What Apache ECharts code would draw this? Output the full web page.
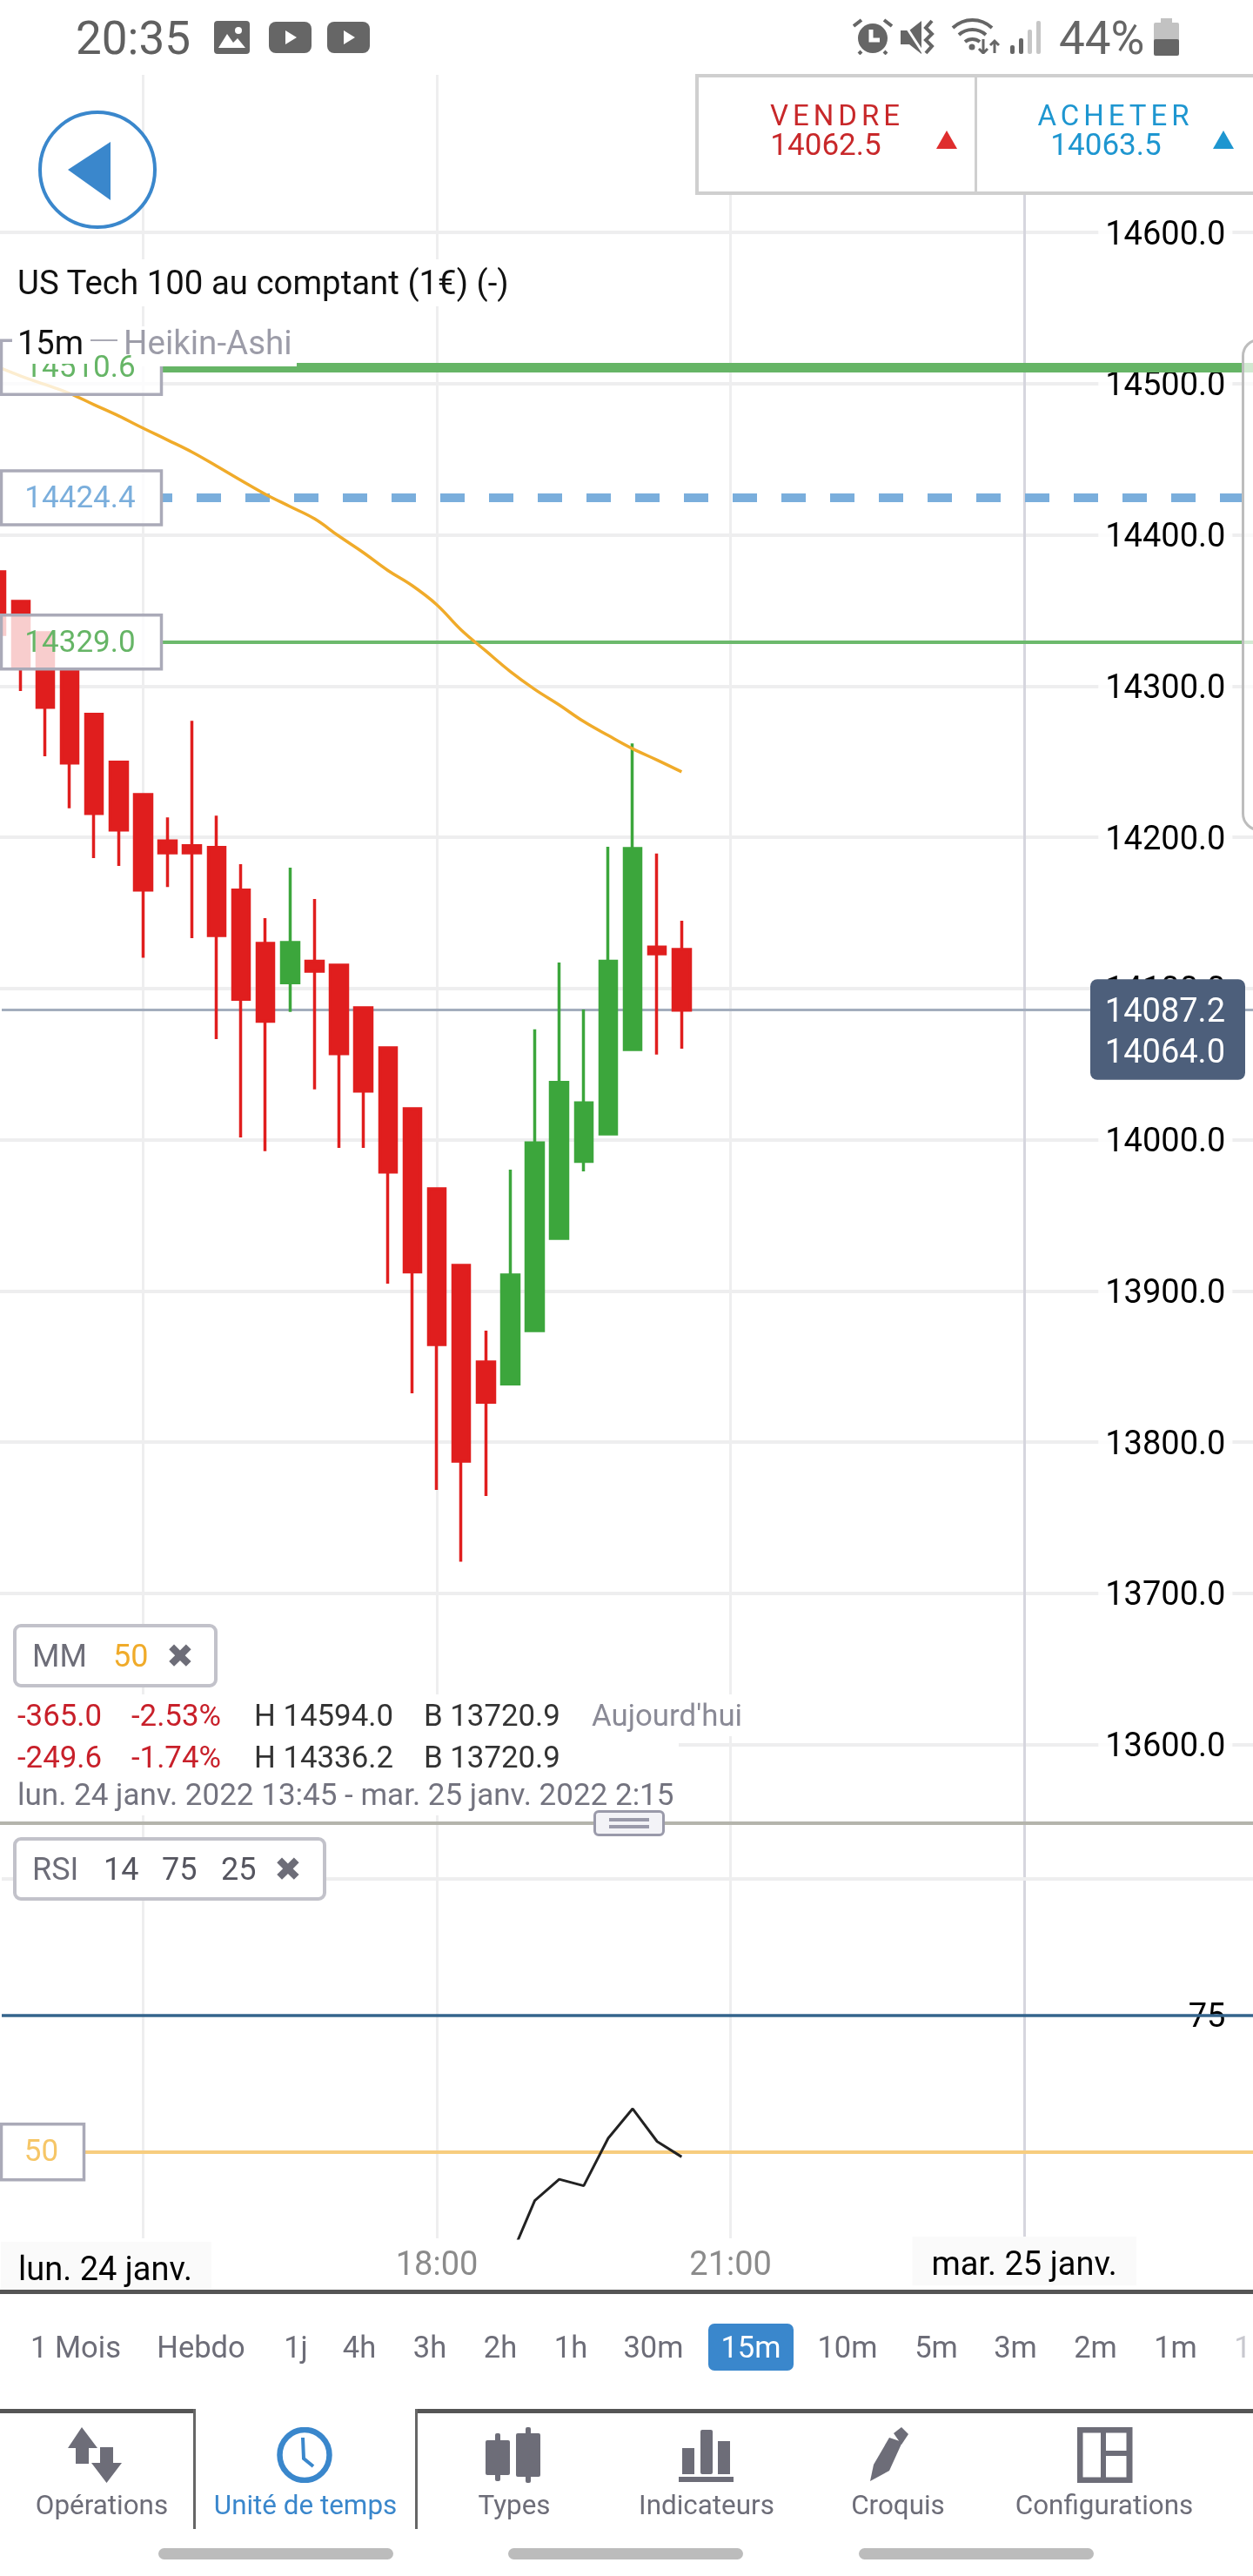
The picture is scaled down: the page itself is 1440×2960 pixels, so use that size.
<!DOCTYPE html>
<html lang="fr">
<head>
<meta charset="utf-8">
<title>US Tech 100</title>
<script src="https://cdn.jsdelivr.net/npm/echarts@6/dist/echarts.min.js"></script>
<style>
html,body{margin:0;padding:0;background:#fff;font-family:Roboto,sans-serif;}
#wrap{position:relative;width:1440px;height:2960px;overflow:hidden;background:#fff;}
#chart{position:absolute;left:0;top:0;width:1440px;height:2960px;}
#ui{position:absolute;left:0;top:0;width:1440px;height:2960px;pointer-events:none;}
#ui div,#ui span,#ui svg{position:absolute;}
.t{white-space:nowrap;line-height:1;}
</style>
</head>
<body>
<div id="wrap"><div id="chart"></div><div id="ui"></div></div>
<script>
// ---- data ----
var candleTimes = ['13:30','13:45','14:00','14:15','14:30','14:45','15:00','15:15','15:30','15:45','16:00','16:15','16:30','16:45','17:00','17:15','17:30','17:45','18:00','18:15','18:30','18:45','19:00','19:15','19:30','19:45','20:00','20:15','20:30'];
var opens  = [14375.5,14356.0,14335.3,14311.1,14281.3,14249.6,14228.2,14197.6,14194.4,14193.2,14165.0,14129.8,14103.7,14118.0,14115.4,14087.2,14060.7,14020.4,13967.5,13916.9,13853.0,13838.4,13873.7,13934.7,13985.6,14003.7,14059.5,14127.4,14125.8];
var closes = [14334.1,14312.5,14285.9,14249.1,14215.7,14204.7,14165.0,14189.6,14189.6,14134.9,14092.8,14078.3,14130.4,14111.4,14056.9,14032.1,13978.5,13912.5,13864.5,13787.3,13826.4,13910.5,13997.9,14037.8,14024.3,14118.0,14192.5,14122.9,14085.6];
var lows   = [14334.1,14296.7,14253.5,14219.2,14186.2,14181.0,14120.3,14167.1,14133.2,14066.5,14001.4,13992.4,14084.4,14033.2,13994.6,13994.6,13904.7,13832.3,13768.4,13720.9,13764.3,13838.4,13873.7,13934.7,13979.0,14003.7,14059.5,14056.2,14060.2];
var highs  = [14375.5,14356.0,14335.3,14311.1,14281.3,14249.6,14228.2,14213.1,14277.0,14214.3,14182.2,14146.5,14179.8,14159.1,14115.4,14087.2,14060.7,14020.4,13967.5,13916.9,13873.7,13980.1,14072.9,14117.1,14086.0,14193.6,14262.0,14189.2,14144.8];
var ma50   = [14511.4,14505.0,14499.3,14493.5,14486.0,14478.6,14470.5,14462.7,14454.7,14445.5,14436.0,14426.8,14418.7,14410.6,14399.1,14388.2,14376.4,14366.3,14353.7,14337.0,14323.2,14309.6,14297.8,14287.5,14276.5,14267.3,14258.5,14251.0,14243.2];
var rsi    = [null,null,null,null,null,null,null,null,null,null,null,null,null,null,null,null,null,null,null,null,null,30.6,41.1,45.0,43.8,52.5,57.9,51.9,49.1];
var priceTicks = [14600,14500,14400,14300,14200,14100,14000,13900,13800,13700,13600];
var levelValues = [14510.6,14424.4,14329.0];
var levelLabels = ['14510.6','14424.4','14329.0'];
var lastPriceLevel = 14085.9;
var lastPriceLabels = ['14087.2','14064.0'];
var rsiLevels = [100,75,50];
var timeTickIndex = [6,18,30,42];
var timeTickLabels = ['lun. 24 janv.','18:00','21:00','mar. 25 janv.'];
var timeframes = ['1 Mois','Hebdo','1j','4h','3h','2h','1h','30m','15m','10m','5m','3m','2m','1m','1'];

// ---- chart ----
var FONT='Roboto, sans-serif';
var STEP=28.13, SLOTS=52, GL=-18.36;
var BLUE='#3a87cc', GREY='#6d6d78';
var candles = opens.map(function(o,i){return [o,closes[i],lows[i],highs[i]];});
var cats = candleTimes.slice();
while(cats.length<SLOTS) cats.push('t'+cats.length);
var chart = echarts.init(document.getElementById('chart'),null,{width:1440,height:2960});
var gridLine={color:'#eeeeef',width:4};
function level(v,style,from){return [{x:from,yAxis:v,lineStyle:style},{x:1440,yAxis:v}];}
chart.setOption({
  animation:false,
  backgroundColor:'#fff',
  grid:[
    {left:GL,width:SLOTS*STEP,top:267,height:1737.5,containLabel:false,outerBoundsMode:'none'},
    {left:GL,width:SLOTS*STEP,top:2158.5,height:413.5,containLabel:false,outerBoundsMode:'none'},
    {left:-173.08,width:60*STEP,top:86,height:2486,containLabel:false,outerBoundsMode:'none'}
  ],
  xAxis:[
    {type:'category',gridIndex:0,data:cats,axisLine:{show:false},axisTick:{show:false},axisLabel:{show:false},splitLine:{show:false}},
    {type:'category',gridIndex:1,data:cats,axisLine:{show:false},axisTick:{show:false},axisLabel:{show:false},splitLine:{show:false}},
    {type:'value',gridIndex:2,min:-6,max:54,interval:12,axisLine:{show:false},axisTick:{show:false},
      splitLine:{show:true,lineStyle:{width:3,color:['#eeeeef','#eeeeef','#eeeeef','#eeeeef','#d6d6de','#eeeeef']}},
      axisLabel:{show:true,margin:4,hideOverlap:false,showMinLabel:true,showMaxLabel:true,fontFamily:FONT,
        formatter:function(v){
          var k=timeTickIndex.indexOf(v);
          if(k<0) return '';
          if(k===0) return '{a|'+timeTickLabels[k]+'}{sp|}';
          if(k===3) return '{b|'+timeTickLabels[k]+'}';
          return '{h|'+timeTickLabels[k]+'}';
        },
        rich:{
          a:{fontFamily:FONT,fontSize:38,color:'#000',backgroundColor:'#fafafa',height:44,lineHeight:44,padding:[12,22,0,20]},
          sp:{width:85,height:44,padding:[12,0,0,0]},
          b:{fontFamily:FONT,fontSize:38,color:'#000',backgroundColor:'#fafafa',height:44,lineHeight:44,padding:[12,22,0,22]},
          h:{fontFamily:FONT,fontSize:38,color:'#8b8b8b',height:44,lineHeight:44,padding:[12,0,0,0]}
        }
      }}
  ],
  yAxis:[
    {type:'value',gridIndex:0,position:'right',min:13600,max:14600,interval:100,
      axisLine:{show:false},axisTick:{show:false},
      splitLine:{show:true,showMinLine:true,showMaxLine:true,lineStyle:gridLine},
      axisLabel:{inside:true,margin:28,align:'right',verticalAlign:'middle',showMinLabel:true,showMaxLabel:true,
        formatter:function(v){return priceTicks.indexOf(v)>=0?'{v|'+v.toFixed(1)+'}':'';},
        rich:{v:{fontFamily:FONT,fontSize:38,color:'#000',height:44,lineHeight:44,padding:[8,8,0,8],backgroundColor:'rgba(255,255,255,0.85)'}}}},
    {type:'value',gridIndex:1,position:'right',min:34.2,max:100,
      axisLine:{show:false},axisTick:{show:false},splitLine:{show:false},
      axisLabel:{inside:true,margin:32,align:'right',verticalAlign:'middle',customValues:[75],
        formatter:function(v){return '{v|'+v+'}';},
        rich:{v:{fontFamily:FONT,fontSize:38,color:'#000',height:44,lineHeight:44,padding:[8,4,0,4],backgroundColor:'#fff'}}}},
    {type:'value',gridIndex:2,min:0,max:1,show:false}
  ],
  series:[
    {name:'Niveaux',type:'line',xAxisIndex:0,yAxisIndex:0,data:[],silent:true,
      markLine:{silent:true,z:1,symbol:'none',animation:false,label:{show:false},data:[
        level(levelValues[0],{color:'#66b566',width:11,type:'solid'},186),
        level(levelValues[1],{color:'#7aaedc',width:10,type:[28,28],dashOffset:16},186),
        level(levelValues[2],{color:'#6cb96c',width:4,type:'solid'},186),
        level(lastPriceLevel,{color:'#a3adbd',width:3,type:'solid'},2)
      ]}},
    {name:'US Tech 100',type:'candlestick',xAxisIndex:0,yAxisIndex:0,z:3,data:candles,barWidth:20,
      itemStyle:{color:'#3ca63c',color0:'#e01e1e',borderColor:'#3ca63c',borderColor0:'#e01e1e',borderWidth:3.5}},
    {name:'MM 50',type:'line',xAxisIndex:0,yAxisIndex:0,z:4,data:ma50,showSymbol:false,symbol:'none',smooth:0.4,
      lineStyle:{color:'#f0ab2a',width:3.5}},
    {name:'Niveaux RSI',type:'line',xAxisIndex:1,yAxisIndex:1,data:[],silent:true,
      markLine:{silent:true,z:1,symbol:'none',animation:false,label:{show:false},data:[
        level(rsiLevels[0],{color:'#eeeeef',width:4,type:'solid'},2),
        level(rsiLevels[1],{color:'#34648c',width:3.5,type:'solid'},2),
        level(rsiLevels[2],{color:'#f7cd7f',width:4,type:'solid'},95)
      ]}},
    {name:'RSI',type:'line',xAxisIndex:1,yAxisIndex:1,z:4,data:rsi,connectNulls:false,showSymbol:false,symbol:'none',
      lineStyle:{color:'#222',width:3}},
    {name:'axe',type:'line',xAxisIndex:2,yAxisIndex:2,data:[],silent:true}
  ]
});

// level tags follow the axis scale
var yMain=function(v){return chart.convertToPixel({yAxisIndex:0},v);};
var yRsi=function(v){return chart.convertToPixel({yAxisIndex:1},v);};
function tag(y,w,h,label,color,fill){
  return [
    {type:'rect',z:20,shape:{x:1.5,y:y-h/2,width:w,height:h},style:{fill:fill,stroke:'#aaaab8',lineWidth:3.5}},
    {type:'text',z:21,style:{x:w/2,y:y+2,text:label,fill:color,font:'35px '+FONT,align:'center',verticalAlign:'middle',textAlign:'center',textVerticalAlign:'middle'}}
  ];
}
var gel=[];
gel=gel.concat(tag(yMain(levelValues[0]),184,62,levelLabels[0],'#66b566','rgba(255,255,255,0.78)'));
gel=gel.concat(tag(yMain(levelValues[1]),184,62,levelLabels[1],'#7aaedc','rgba(255,255,255,0.78)'));
gel=gel.concat(tag(yMain(levelValues[2]),184,62,levelLabels[2],'#66b566','rgba(255,255,255,0.78)'));
gel=gel.concat(tag(yRsi(rsiLevels[2]),95,64,'50','#f6c667','#fff'));
var py=yMain(lastPriceLevel);
gel.push({type:'rect',z:20,shape:{x:1253,y:py-35,width:178,height:115.5,r:8},style:{fill:'#4d5f7b'}});
gel.push({type:'text',z:21,style:{x:1408,y:py+4,text:lastPriceLabels[0],fill:'#fff',font:'38px '+FONT,align:'right',verticalAlign:'middle'}});
gel.push({type:'text',z:21,style:{x:1408,y:py+51,text:lastPriceLabels[1],fill:'#fff',font:'38px '+FONT,align:'right',verticalAlign:'middle'}});
chart.setOption({graphic:{elements:gel}});

// ---- application chrome ----
var ui=document.getElementById('ui');
function box(x,y,w,h,css){var d=document.createElement('div');d.style.cssText='left:'+x+'px;top:'+y+'px;width:'+w+'px;height:'+h+'px;box-sizing:border-box;'+(css||'');ui.appendChild(d);return d;}
function txt(s,x,y,size,color,anchor,css){var d=document.createElement('div');d.className='t';d.textContent=s;
  var tx=anchor==='c'?'-50%':(anchor==='r'?'-100%':'0');
  d.style.cssText='left:'+x+'px;top:'+y+'px;font-size:'+size+'px;color:'+color+';transform:translate('+tx+',-50%);'+(css||'');ui.appendChild(d);return d;}
function svg(x,y,w,h,inner){var d=document.createElementNS('http://www.w3.org/2000/svg','svg');d.setAttribute('width',w);d.setAttribute('height',h);d.setAttribute('viewBox','0 0 '+w+' '+h);d.style.left=x+'px';d.style.top=y+'px';d.innerHTML=inner;ui.appendChild(d);}

box(0,0,1440,84,'background:#fff');
// status bar
txt('20:35',87,44,53,'#606060','l');
var SB='#666';
svg(246,24,41,38,'<rect width="41" height="38" rx="4" fill="'+SB+'"/><circle cx="28" cy="11" r="4" fill="#fff"/><path d="M5 31 L15 15 L22 25 L27 20 L36 31Z" fill="#fff"/>');
svg(309,25,49,36,'<rect width="49" height="36" rx="8" fill="'+SB+'"/><path d="M19 10 L32 18 L19 26Z" fill="#fff"/>');
svg(376,25,49,36,'<rect width="49" height="36" rx="8" fill="'+SB+'"/><path d="M19 10 L32 18 L19 26Z" fill="#fff"/>');
svg(980,21,46,42,'<circle cx="23" cy="23" r="17" fill="'+SB+'"/><path d="M1 9 L10 2 M45 9 L36 2 M10 38 L7 41 M36 38 L39 41" stroke="'+SB+'" stroke-width="4"/><path d="M21 13 V25 H31" stroke="#fff" stroke-width="5" fill="none"/>');
svg(1035,21,42,42,'<path d="M0 14 H10 L24 3 V41 L10 30 H0Z" fill="'+SB+'"/><path d="M2 3 L26 40" stroke="#fff" stroke-width="3"/><path d="M36 3 L29 11 L36 18 L29 25 L36 32 L29 40" stroke="'+SB+'" stroke-width="4" fill="none"/>');
svg(1093,20,58,42,'<path d="M2 12 C15 0 34 0 47 12 M9 20 C18 12 31 12 40 20 M16 28 C21 24 28 24 33 28" stroke="'+SB+'" stroke-width="4" fill="none"/><circle cx="24" cy="34" r="3.5" fill="'+SB+'"/><path d="M37 25 V41 M32 36 L37 41 L42 36 M50 41 V27 M45 32 L50 27 L55 32" stroke="'+SB+'" stroke-width="3" fill="none"/>');
svg(1160,24,38,38,'<rect x="1" y="28" width="5" height="10" rx="2" fill="'+SB+'"/><rect x="11" y="20" width="5" height="18" rx="2" fill="'+SB+'"/><rect x="21" y="10" width="5" height="28" rx="2" fill="#c6c6c6"/><rect x="31" y="0" width="5" height="38" rx="2" fill="#c6c6c6"/>');
txt('44%',1217,44,53,'#666','l');
svg(1326,21,29,43,'<rect x="8" y="0" width="13" height="6" fill="#c2c2c2"/><rect y="5" width="29" height="24" rx="2" fill="#c2c2c2"/><rect y="24" width="29" height="19" rx="2" fill="'+SB+'"/>');

// back button
svg(42,125,140,140,'<circle cx="70" cy="70" r="66" fill="#fff" stroke="'+BLUE+'" stroke-width="4"/><path d="M36 70 L85 38 V105Z" fill="'+BLUE+'"/>');

// bid / ask panel
box(799,85,645,139,'background:#fff;border:4px solid #cfcfcf');
box(1120,87,3,135,'background:#cfcfcf');
txt('VENDRE',962,132,33,'#c8282a','c','letter-spacing:5px');
txt('14062.5',949,166,35,'#c8282a','c');
svg(1076,150,24,21,'<path d="M12 0 L24 21 H0Z" fill="#df2d2d"/>');
txt('ACHETER',1282,132,33,'#1e96d0','c','letter-spacing:5px');
txt('14063.5',1271,166,35,'#1e96d0','c');
svg(1394,150,24,21,'<path d="M12 0 L24 21 H0Z" fill="#1e96d0"/>');

// header texts over the chart
box(0,298,600,54,'background:#fff');
txt('US Tech 100 au comptant (1€) (-)',20,325,38.4,'#111','l');
box(14,375,94,43,'background:#fff');
box(108,375,48,33,'background:#fff');
box(156,375,185,46,'background:#fff');
txt('15m',20,394,38,'#111','l');
box(104,390,31,2,'background:#a9a9b4');
txt('Heikin-Ashi',142,394,38.5,'#9c9ca8','l');

// side handle
box(1427,389,30,566,'background:rgba(255,255,255,0.7);border:3px solid #bdbdbd;border-radius:20px 0 0 20px');

// MM chip and stats
box(0,1947,845,48,'background:#fff');
box(0,1995,780,91,'background:#fff');
box(15,1866,235,73,'background:#fff;border:4px solid #c2c2ca;border-radius:9px');
txt('MM',37,1903,36,GREY,'l');
txt('50',130,1903,36,'#f0ab2a','l');
txt('✖',207,1903,38,GREY,'c');
var RED='#c8202a', DK='#333';
txt('-365.0',20,1971,34.8,RED,'l'); txt('-2.53%',151,1971,34.8,RED,'l');
txt('H 14594.0',292,1971,34.8,DK,'l'); txt('B 13720.9',487,1971,34.8,DK,'l');
txt("Aujourd'hui",680,1971,34.8,'#8a8a96','l');
txt('-249.6',20,2019,34.8,RED,'l'); txt('-1.74%',151,2019,34.8,RED,'l');
txt('H 14336.2',292,2019,34.8,DK,'l'); txt('B 13720.9',487,2019,34.8,DK,'l');
txt('lun. 24 janv. 2022 13:45 - mar. 25 janv. 2022 2:15',20,2062,35,'#73737f','l');

// divider
box(0,2093,1440,4,'background:#b4b4ac');
box(682,2080,82,30,'background:#f3f3f7;border:3px solid #9a9aaa;border-radius:6px');
box(700,2089,46,4,'background:#9a9aaa');
box(700,2097,46,4,'background:#9a9aaa');

// RSI chip
box(15,2111,360,73,'background:#fff;border:4px solid #c2c2ca;border-radius:9px');
txt('RSI',37,2148,36,GREY,'l');
txt('14',119,2148,36,'#55555f','l'); txt('75',186,2148,36,'#55555f','l'); txt('25',254,2148,36,'#55555f','l');
txt('✖',331,2148,38,GREY,'c');

// time axis base and time frames
box(0,2631,1440,5,'background:#555');
var tfX=[87,231,340,413,494,575,656,751,863,974,1076,1167,1259,1351,1428];
box(814,2670,98,54,'background:'+BLUE+';border-radius:7px');
timeframes.forEach(function(s,i){txt(s,tfX[i],2697,34.5,i===8?'#fff':(i===14?'#c8c8cf':GREY),'c');});

// tab bar
box(0,2768,223,5,'background:#555');
box(477,2768,963,5,'background:#555');
box(222,2768,3,138,'background:#666');
box(477,2768,3,138,'background:#666');
var tabs=[['Opérations',117,GREY],['Unité de temps',351,BLUE],['Types',591,GREY],['Indicateurs',812,GREY],['Croquis',1032,GREY],['Configurations',1269,GREY]];
tabs.forEach(function(t){txt(t[0],t[1],2879,31.4,t[2],'c');});
svg(78,2789,68,64,'<path d="M15 0 L33 24 H23 V42 H8 V24 H-1Z" fill="'+GREY+'" transform="translate(1,0)"/><path d="M26 23 H41 V41 H51 L33.500 64 L16 41 H26Z" fill="'+GREY+'" transform="translate(11,0)"/>');
svg(318,2789,64,64,'<ellipse cx="32" cy="32" rx="28.5" ry="29" fill="none" stroke="'+BLUE+'" stroke-width="6.500"/><path d="M30 12 L31 36 L42 45" fill="none" stroke="'+BLUE+'" stroke-width="4"/>');
svg(558,2789,64,64,'<rect x="0" y="15" width="28" height="40" rx="2" fill="'+GREY+'"/><rect x="11" y="7" width="6" height="55" rx="2" fill="'+GREY+'"/><rect x="35" y="7" width="28" height="50" rx="2" fill="'+GREY+'"/><rect x="46" y="0" width="6" height="64" rx="2" fill="'+GREY+'"/>');
svg(780,2792,64,60,'<rect x="4" y="21" width="14" height="30" fill="'+GREY+'"/><rect x="25" y="0" width="14" height="51" rx="2" fill="'+GREY+'"/><rect x="45" y="13" width="14" height="38" fill="'+GREY+'"/><rect x="0" y="54" width="63" height="6" fill="'+GREY+'"/>');
svg(1000,2789,62,64,'<path d="M0 62 L4 43 L22 12 L37 17 L22 50 Z" fill="'+GREY+'"/><path d="M27 7 L36 0 L44 8 L36 20Z" fill="'+GREY+'"/>');
svg(1238,2789,64,64,'<rect x="3" y="3" width="57" height="58" fill="none" stroke="'+GREY+'" stroke-width="7"/><path d="M30 3 V61 M30 30 H60" stroke="'+GREY+'" stroke-width="6"/>');

// navigation pills
box(182,2928,270,13,'background:#bcbcbc;border-radius:7px');
box(584,2928,270,13,'background:#bcbcbc;border-radius:7px');
box(987,2928,270,13,'background:#bcbcbc;border-radius:7px');
</script>
</body>
</html>
